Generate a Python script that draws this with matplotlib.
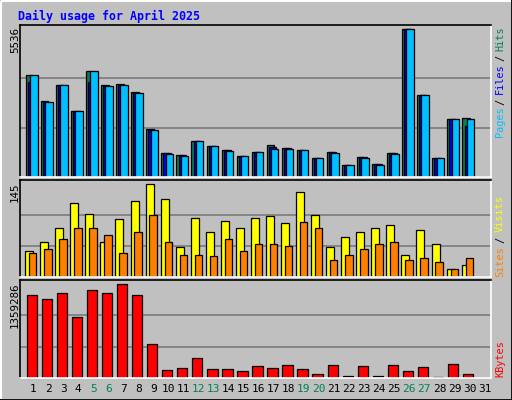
import matplotlib
matplotlib.use("Agg")
import matplotlib.pyplot as plt
from matplotlib.patches import Rectangle
from matplotlib.lines import Line2D

days = list(range(1, 32))
weekend = [5, 6, 12, 13, 19, 20, 26, 27]
hits = [3808,2843,3432,2467,3958,3432,3482,3181,1791,914,839,1365,1177,1027,802,952,1215,1102,1027,726,952,463,764,501,914,5536,3056,726,2154,2192,0]
files = [3557,2818,3432,2467,3557,3407,3432,3156,1754,889,814,1365,1177,1002,802,952,1140,1077,1027,726,927,463,739,476,889,5536,3056,726,2154,1904,0]
pages = [3808,2793,3432,2467,3958,3407,3432,3144,1741,877,802,1365,1177,989,802,952,1065,1065,1027,726,914,463,726,463,877,5536,3056,726,2154,2154,0]
visits = [40,55,77,115,99,55,90,118,145,121,46,92,70,87,76,92,95,84,132,96,46,63,70,77,81,35,73,52,12,19,0]
sites = [37,43,59,77,77,66,37,70,96,55,35,34,32,59,40,52,52,48,85,77,27,34,44,51,55,26,30,23,13,30,0]
kbytes = [1195600,1136100,1225400,883100,1270000,1225400,1359286,1195600,496100,109100,138900,287700,124000,124000,94300,168700,138900,183600,124000,64500,183600,34700,168700,34700,183600,94300,153800,14900,198400,64500,0]

W, H = 512, 400
BG = "#c0c0c0"
fig = plt.figure(figsize=(W/100, H/100), dpi=100, facecolor=BG)
MONO = "DejaVu Sans Mono"

def px_ax(x0, y0, x1, y1):
    return fig.add_axes([x0/W, 1-y1/H, (x1-x0)/W, (y1-y0)/H])

fig.add_artist(Rectangle((0, 0), 1, 1, transform=fig.transFigure, fill=False, ec="black", lw=2))
fig.add_artist(Line2D([1/W, 1/W, 1-2/W], [2/H, 1-1/H, 1-1/H], transform=fig.transFigure, color="white", lw=1.5))
fig.text(18/W, 1-16/H, "Daily usage for April 2025", color="#0000ff", fontsize=8.4,
         fontweight="bold", family=MONO, va="center", ha="left")

def setup(ax, vmax, y0, y1, gap=4):
    h = y1 - y0
    ax.set_facecolor(BG)
    ax.set_xlim(0.136, 31.43)
    ax.set_ylim(0, vmax * h / (h - gap))
    for v in (vmax/3, 2*vmax/3):
        ax.axhline(v, color="#808080", lw=1.3, zorder=0)
    ax.set_xticks([]); ax.set_yticks([])
    for s in ("left", "top"):
        ax.spines[s].set_color("black")
    for s in ("right", "bottom"):
        ax.spines[s].set_color("white")
    for s in ax.spines.values():
        s.set_linewidth(1.2)

def right_label(parts, ybottom, cpx=5.4, x=500):
    for txt, idx, col in parts:
        fig.text(x/W, 1-(ybottom - idx*cpx)/H, txt, rotation=90, color=col, family=MONO,
                 fontsize=7.4, ha="center", va="bottom")

def left_label(txt, ytop):
    fig.text(15/W, 1-ytop/H, txt, rotation=90, family=MONO, fontsize=7.8,
             ha="center", va="top", color="black")

ek = dict(edgecolor="black", linewidth=0.9, align="edge")
ax1 = px_ax(20, 25, 491, 177)
setup(ax1, max(hits), 25, 177)
xs = [d - 0.47 for d in days]
ax1.bar(xs, hits, width=0.49, color="#00805c", **ek)
ax1.bar([x + 0.14 for x in xs], files, width=0.49, color="#0000ff", **ek)
ax1.bar([x + 0.28 for x in xs], pages, width=0.49, color="#00c0ff", **ek)
left_label("5536", 27)
right_label([("Pages", 0, "#00c0ff"), ("/", 6, "black"), ("Files", 8, "#0000ff"),
             ("/", 14, "black"), ("Hits", 16, "#00805c")], 137)

ax2 = px_ax(20, 180, 491, 277)
setup(ax2, max(visits), 180, 277)
ax2.bar([d - 0.52 for d in days], visits, width=0.53, color="#ffff00", **ek)
ax2.bar([d - 0.26 for d in days], sites, width=0.49, color="#ff8000", **ek)
left_label("145", 182)
right_label([("Sites", 0, "#ff8000"), ("/", 6, "black"), ("Visits", 8, "#ffff00")], 277, cpx=5.6)

ax3 = px_ax(20, 280, 491, 378)
setup(ax3, max(kbytes), 280, 378)
ax3.bar([d - 0.43 for d in days], kbytes, width=0.69, color="#ff0000", **ek)
left_label("1359286", 283)
right_label([("KBytes", 0, "#ff0000")], 377, cpx=5.6)

for d in days:
    x = 20 + (d - 0.136) / (31.43 - 0.136) * 471
    fig.text(x/W, 1-389/H, str(d), family=MONO, fontsize=8, ha="center", va="center",
             color="#00805c" if d in weekend else "black")

fig.savefig("out.png", dpi=100, facecolor=BG)
